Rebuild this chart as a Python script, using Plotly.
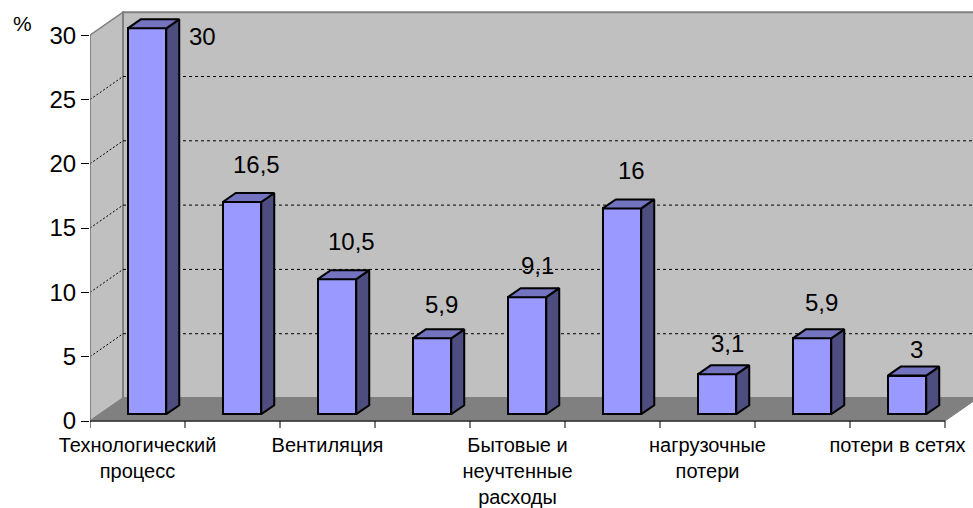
import plotly.graph_objects as go

values = [30, 16.5, 10.5, 5.9, 9.1, 16, 3.1, 5.9, 3]
value_labels = ["30", "16,5", "10,5", "5,9", "9,1", "16", "3,1", "5,9", "3"]
tick_positions = [0, 2, 4, 6, 8]
tick_labels = ["Технологический<br>процесс", "Вентиляция", "Бытовые и<br>неучтенные<br>расходы",
               "нагрузочные<br>потери", "потери в сетях"]
y_ticks = [0, 5, 10, 15, 20, 25, 30]
grid_levels = [5, 10, 15, 20, 25]

# Projection and pixel scale of the pseudo-3D box
W, H = 973, 508
PX_X, PX_Y = 95.0, 12.87
TICK = 7.0                # x tick length, px (plot area runs that far below zero)
L, B = 90.0, 421.3 + TICK
T = 10.0
x0_range = -0.5
x1_range = x0_range + (W - L) / PX_X
y0_range = -TICK / PX_Y
y1_range = y0_range + (B - T) / PX_Y
WDX, WDY = 33 / PX_X, 23 / PX_Y      # wall depth
BDX, BDY = 13 / PX_X, 9 / PX_Y       # bar depth
LIFT = 0.53
SHIFT = 0.1
BW = 0.405
XL, XR, YT = -0.5, 8.5, 30

# label offset in px from bar top centre
label_dx = [55, 14, 14, 9, 10, 9, 10, 9, 9]
label_dy = [-8, 37, 38, 34, 32, 38, 31, 36, 26]

def poly(points):
    return "M" + "L".join(f"{x},{y}" for x, y in points) + "Z"

shapes = [
    dict(type="path", path=poly([(XL, 0), (XL + WDX, WDY), (XL + WDX, YT + WDY), (XL, YT)]),
         fillcolor="#c0c0c0", line=dict(color="#808080", width=1.5), layer="below"),
    dict(type="path", path=poly([(XL + WDX, WDY), (XR + WDX, WDY), (XR + WDX, YT + WDY), (XL + WDX, YT + WDY)]),
         fillcolor="#c0c0c0", line=dict(color="#808080", width=2), layer="below"),
    dict(type="path", path=poly([(XL, 0), (XL + WDX, WDY), (XR + WDX, WDY), (XR, 0)]),
         fillcolor="#808080", line=dict(color="#808080", width=1), layer="below"),
]
for g in grid_levels:
    shapes.append(dict(type="line", x0=XL, y0=g, x1=XL + WDX, y1=g + WDY,
                       line=dict(color="#000000", width=1, dash="2px,2px"), layer="below"))
    shapes.append(dict(type="line", x0=XL + WDX, y0=g + WDY, x1=XR + WDX, y1=g + WDY,
                       line=dict(color="#000000", width=1, dash="3px,3px"), layer="below"))
shapes.append(dict(type="line", x0=XL, y0=0, x1=XL, y1=YT, line=dict(color="#808080", width=1.5), layer="below"))
shapes.append(dict(type="line", x0=XL, y0=0, x1=XR, y1=0, line=dict(color="#333333", width=1.5), layer="below"))

x_pos = [i + SHIFT for i in range(len(values))]
fig = go.Figure()
fig.add_trace(go.Bar(x=x_pos, y=values, base=LIFT, width=BW,
                     marker=dict(color="#9999ff", line=dict(color="#000000", width=2)),
                     hoverinfo="skip", showlegend=False))

side_x, side_y, top_x, top_y = [], [], [], []
for x, v in zip(x_pos, values):
    xl, xr = x - BW / 2, x + BW / 2
    top = LIFT + v
    side_x += [xr, xr + BDX, xr + BDX, xr, xr, None]
    side_y += [LIFT, LIFT + BDY, top + BDY, top, LIFT, None]
    top_x += [xl, xl + BDX, xr + BDX, xr, xl, None]
    top_y += [top, top + BDY, top + BDY, top, top, None]
fig.add_trace(go.Scatter(x=side_x, y=side_y, mode="lines", fill="toself", fillcolor="#4d4d80",
                         line=dict(color="#000000", width=2), hoverinfo="skip", showlegend=False))
fig.add_trace(go.Scatter(x=top_x, y=top_y, mode="lines", fill="toself", fillcolor="#7373bf",
                         line=dict(color="#000000", width=2), hoverinfo="skip", showlegend=False))

tick_x, tick_y = [], []
for i in range(10):
    tick_x += [i - 0.5, i - 0.5, None]
    tick_y += [0, y0_range, None]
fig.add_trace(go.Scatter(x=tick_x, y=tick_y, mode="lines", cliponaxis=False,
                         line=dict(color="#000000", width=1), hoverinfo="skip", showlegend=False))

annotations = [dict(x=x, y=v + LIFT, text=t, showarrow=False, xshift=dx, yshift=dy,
                    font=dict(size=24, color="#000000"))
               for x, v, t, dx, dy in zip(x_pos, values, value_labels, label_dx, label_dy)]
annotations.append(dict(xref="paper", yref="paper", x=(22 - L) / (W - L), y=1 + (T - 24) / (B - T),
                        xanchor="center", yanchor="middle", text="%", showarrow=False,
                        font=dict(size=21, color="#000000")))

fig.update_layout(
    width=W, height=H, autosize=False,
    margin=dict(l=L, r=0, t=T, b=H - B, pad=0),
    paper_bgcolor="white", plot_bgcolor="white",
    font=dict(family="Liberation Sans, Arial, sans-serif", color="#000000"),
    showlegend=False, shapes=shapes, annotations=annotations, bargap=0,
    xaxis=dict(range=[x0_range, x1_range], tickmode="array", tickvals=tick_positions, ticktext=tick_labels,
               tickfont=dict(size=20), ticks="", ticklen=0, showgrid=False, zeroline=False, showline=False,
               tickangle=0, ticklabelstandoff=3, automargin=False),
    yaxis=dict(range=[y0_range, y1_range], tickmode="array", tickvals=y_ticks, ticks="outside", ticklen=8, tickwidth=1,
               tickcolor="#000000", tickfont=dict(size=24), showgrid=False, zeroline=False, showline=False,
               ticklabelstandoff=0, automargin=False),
)
fig.write_html("out.html", config=dict(displayModeBar=False),
               post_script="document.body.style.margin='0';document.body.style.overflow='hidden';")
